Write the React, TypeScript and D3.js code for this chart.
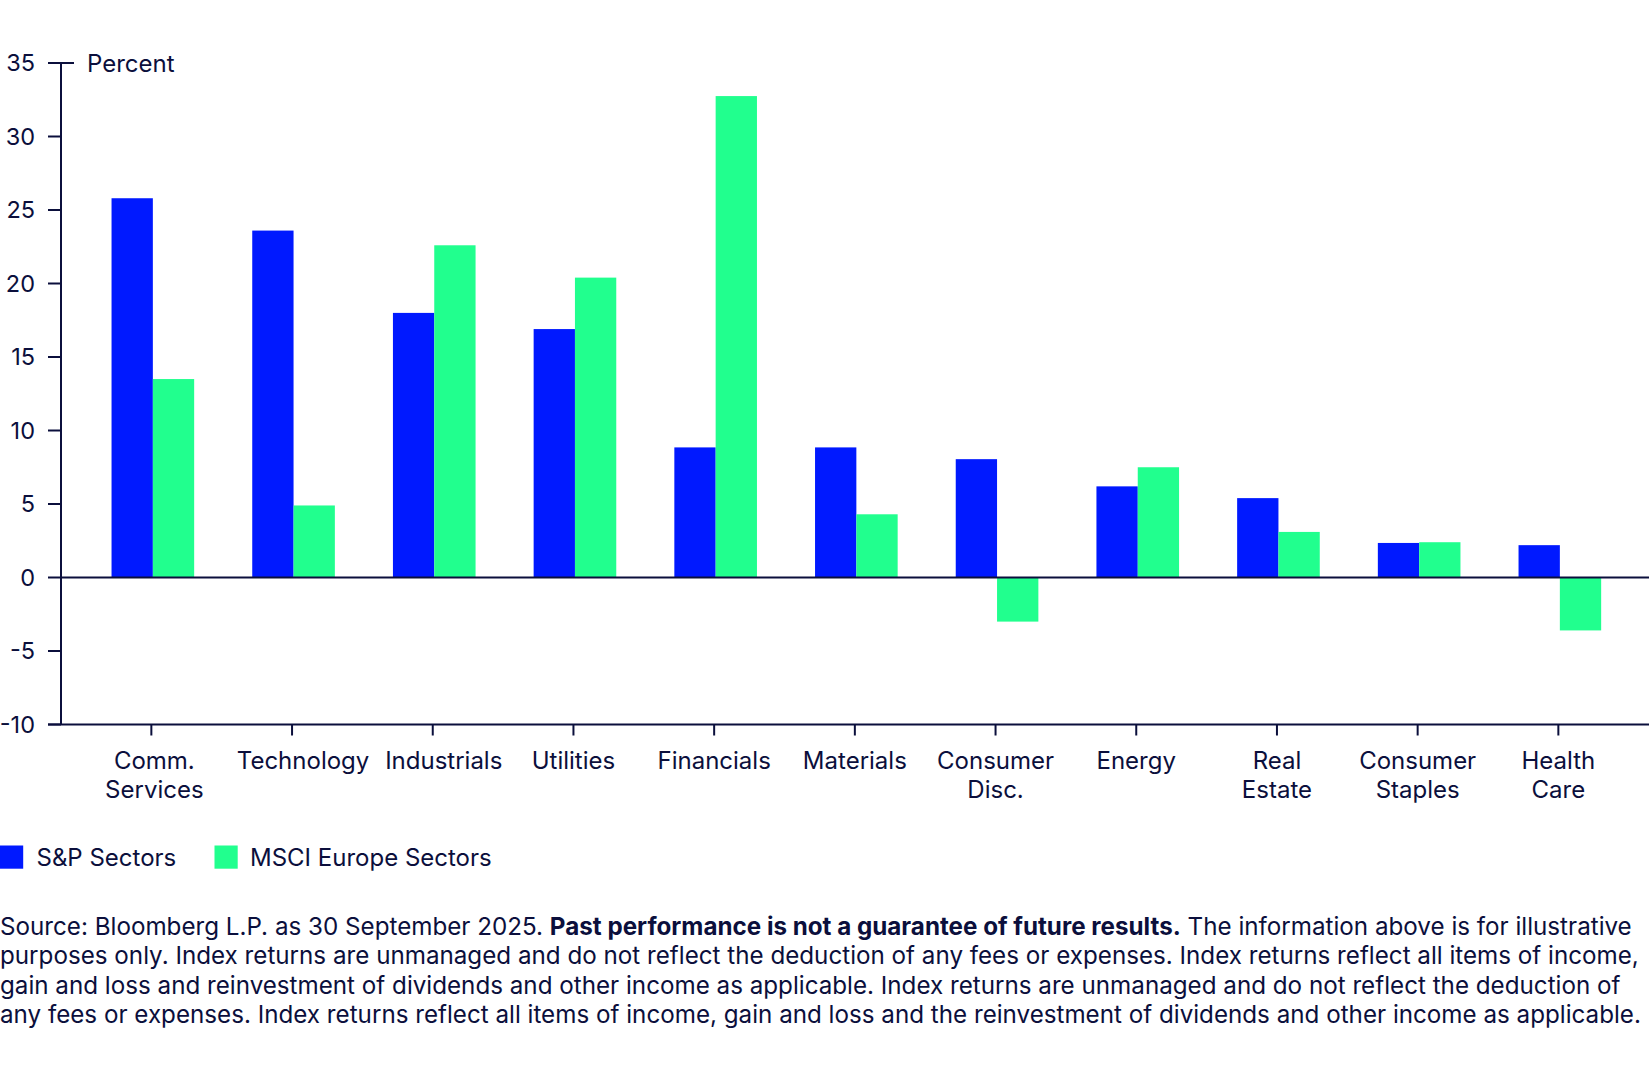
import React from "react";
import * as d3 from "d3";

const categories = [
  ["Comm.", "Services"],
  ["Technology"],
  ["Industrials"],
  ["Utilities"],
  ["Financials"],
  ["Materials"],
  ["Consumer", "Disc."],
  ["Energy"],
  ["Real", "Estate"],
  ["Consumer", "Staples"],
  ["Health", "Care"],
];
const seriesNames = ["S&P Sectors", "MSCI Europe Sectors"];
const spValues = [25.8, 23.6, 18.0, 16.9, 8.85, 8.85, 8.05, 6.2, 5.4, 2.35, 2.2];
const msciValues = [13.5, 4.9, 22.6, 20.4, 32.75, 4.3, -3.0, 7.5, 3.1, 2.4, -3.6];
const yTicks = [35, 30, 25, 20, 15, 10, 5, 0, -5, -10];
const colors = ["#0019ff", "#21ff8e"];
const ink = "#0b0f3c";
const font = "Inter, 'Noto Sans', sans-serif";

// layout-only nudges for a few category labels (as placed in the original)
const labelNudge: Record<string, number> = { Technology: 11, Industrials: 11, "Comm. Services": 3 };

const footLines: { text: string; bold?: boolean }[][] = [
  [
    { text: "Source: Bloomberg L.P. as 30 September 2025. " },
    { text: "Past performance is not a guarantee of future results.", bold: true },
    { text: " The information above is for illustrative" },
  ],
  [{ text: "purposes only. Index returns are unmanaged and do not reflect the deduction of any fees or expenses. Index returns reflect all items of income," }],
  [{ text: "gain and loss and reinvestment of dividends and other income as applicable. Index returns are unmanaged and do not reflect the deduction of" }],
  [{ text: "any fees or expenses. Index returns reflect all items of income, gain and loss and the reinvestment of dividends and other income as applicable." }],
];

const W = 1649;
const H = 1080;

export default function App() {
  const keys = categories.map((c) => c.join(" "));
  const y = d3.scaleLinear().domain([-10, 35]).range([724.5, 63]);
  const x = d3.scaleBand<string>().domain(keys).range([81, 1628.7]).padding(0);
  const xs = d3
    .scaleBand<number>()
    .domain([0, 1])
    .range([0, x.bandwidth()])
    .paddingInner(0)
    .paddingOuter(0.703);
  const axisX = 61;
  const y0 = y(0);
  const data = keys.map((k, i) => ({ k, vals: [spValues[i], msciValues[i]] }));

  return (
    <div style={{ position: "absolute", left: 0, top: 0 }}>
      <svg width={W} height={H} style={{ display: "block", background: "#fff" }} fontFamily={font}>
        {/* bars */}
        {data.map((d) =>
          d.vals.map((v, j) => (
            <rect
              key={d.k + j}
              x={(x(d.k) as number) + (xs(j) as number) + 1.5}
              y={Math.min(y(v), y0)}
              width={xs.bandwidth()}
              height={Math.abs(y(v) - y0)}
              fill={colors[j]}
            />
          ))
        )}
        {/* zero line */}
        <line x1={axisX} x2={W} y1={y0} y2={y0} stroke={ink} strokeWidth={2} />
        {/* y axis */}
        <line x1={axisX} x2={axisX} y1={y(35)} y2={y(-10)} stroke={ink} strokeWidth={2} />
        {yTicks.map((t) => (
          <g key={t}>
            <line x1={48} x2={t === 35 ? 74 : axisX} y1={y(t)} y2={y(t)} stroke={ink} strokeWidth={2} />
            <text x={35} y={y(t)} dy="0.36em" textAnchor="end" fontSize={23.5} fill={ink}>
              {t}
            </text>
          </g>
        ))}
        <text x={87} y={y(35)} dy="0.36em" fontSize={24} fill={ink}>
          Percent
        </text>
        {/* x axis */}
        <line x1={48} x2={W} y1={y(-10)} y2={y(-10)} stroke={ink} strokeWidth={2} />
        {keys.map((k, i) => {
          const cx = (x(k) as number) + x.bandwidth() / 2;
          const lx = cx + (labelNudge[k] || 0);
          return (
            <g key={k}>
              <line x1={cx} x2={cx} y1={y(-10)} y2={y(-10) + 11} stroke={ink} strokeWidth={2} />
              <text textAnchor="middle" fontSize={24} fill={ink}>
                {categories[i].map((ln, li) => (
                  <tspan key={li} x={lx} y={768.5 + li * 29.3}>
                    {ln}
                  </tspan>
                ))}
              </text>
            </g>
          );
        })}
        {/* legend */}
        <g>
          <rect x={0} y={845.5} width={23.2} height={23.2} fill={colors[0]} />
          <text x={36.5} y={866} fontSize={24} fill={ink}>
            {seriesNames[0]}
          </text>
          <rect x={214.5} y={845.5} width={23.2} height={23.2} fill={colors[1]} />
          <text x={250} y={866} fontSize={24} fill={ink}>
            {seriesNames[1]}
          </text>
        </g>
        {/* footnote */}
        {footLines.map((ln, i) => (
          <text key={i} x={0} y={935 + i * 29.4} fontSize={24.2} fill={ink}>
            {ln.map((s, j) => (
              <tspan key={j} fontWeight={s.bold ? 700 : 400}>
                {s.text}
              </tspan>
            ))}
          </text>
        ))}
      </svg>
    </div>
  );
}
